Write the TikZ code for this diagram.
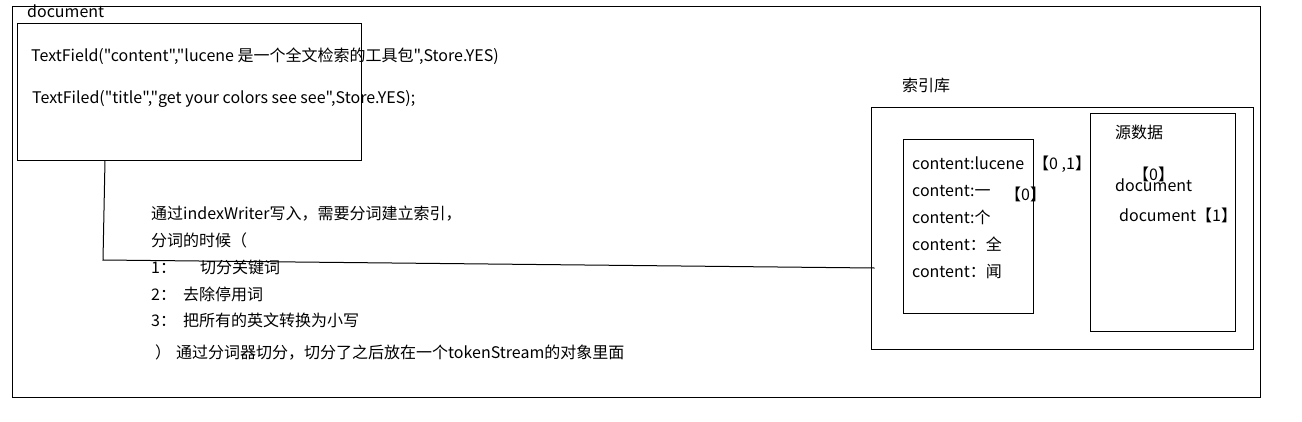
\documentclass[tikz,border=0pt]{standalone}
\usepackage{fontspec}
\setmainfont{Noto Sans CJK SC}[Ligatures=TeXOff]
\usetikzlibrary{positioning}

\begin{document}
\begin{tikzpicture}[
        x=1pt, y=-1pt,
        box/.style={draw, line width=1pt, inner sep=0pt},
        label/.style={anchor=base west, inner sep=0pt, font=\fontsize{16}{18}\selectfont},
        link/.style={line width=1pt}
    ]
    \useasboundingbox (0,0) rectangle (1302,421);

    % Boxes
    \node[box, minimum width=1248pt, minimum height=391pt] (page) at (636,201.5) {};
    \node[box, minimum width=344pt, minimum height=137pt] (doc) at (189,91.5) {};
    \node[box, minimum width=382pt, minimum height=242pt] (lib) at (1062,228) {};
    \node[box, minimum width=130pt, minimum height=174pt] (terms) at (968,226) {};
    \node[box, minimum width=145pt, minimum height=218pt] (src) at (1162.5,222) {};

    % Document
    \node[label] (doctitle) at (27,17) {document};
    \node[label] (field1) at (31,61) {TextField("content","lucene 是一个全文检索的工具包",Store.YES)};
    \node[label] (field2) at (32,103) {TextFiled("title","get your colors see see",Store.YES);};

    % Connection: Document to Index
    \draw[link] (doc.south -| 105,0) -- (103,260) -- ([xshift=4pt]lib.west |- 0,268);

    % Notes
    \node[label] (note1) at (151,219) {通过indexWriter写入，需要分词建立索引，};
    \node[label] (note2) at (151,246) {分词的时候（};
    \node[label] (step1) at (151,273) {\makebox[49pt][l]{1：}切分关键词};
    \node[label] (step2) at (151,300) {\makebox[32pt][l]{2：}去除停用词};
    \node[label] (step3) at (151,326) {\makebox[32pt][l]{3：}把所有的英文转换为小写};
    \node[label] (note3) at (155,358) {\makebox[21pt][l]{）}通过分词器切分，切分了之后放在一个tokenStream的对象里面};

    % Index
    \node[label] (libtitle) at (902,91) {索引库};
    \foreach \t [count=\i] in {content:lucene, content:一, content:个, content：全, content：闻} {
        \node[label] (term\i) at (912,142+27*\i) {\t};
    }
    \node[label] (post1) at (1033,169) {【0 ,1】};
    \node[label] (post2) at (1005,200) {【0】};

    % Source Data
    \node[label] (srctitle) at (1115,138) {源数据};
    \node[label] (src0) at (1133,180) {【0】};
    \node[label] (srcdoc0) at (1115,191) {document};
    \node[label] (srcdoc1) at (1119,221) {document【1】};

\end{tikzpicture}
\end{document}
